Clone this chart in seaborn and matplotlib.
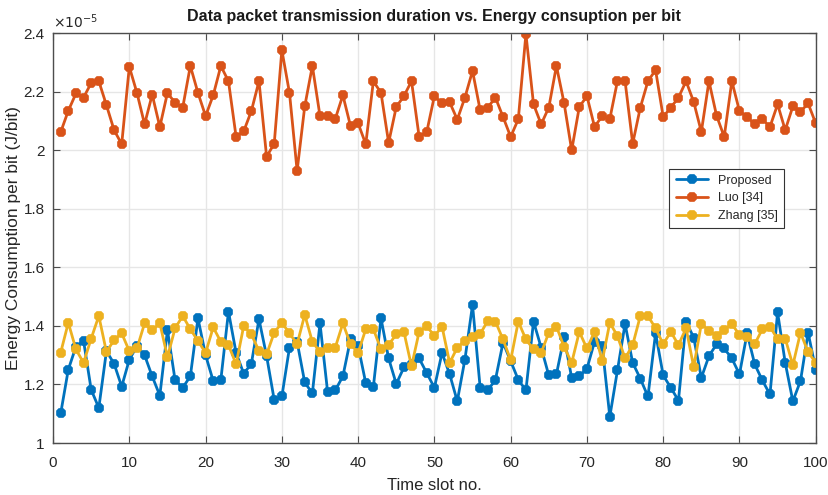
import numpy as np
import pandas as pd
import matplotlib
matplotlib.use("Agg")
import matplotlib.pyplot as plt
import seaborn as sns

slots = list(range(1, 101))

proposed = [1.101, 1.251, 1.329, 1.349, 1.182, 1.120, 1.314, 1.271, 1.193, 1.285,
            1.331, 1.300, 1.228, 1.162, 1.386, 1.215, 1.189, 1.228, 1.426, 1.300,
            1.212, 1.216, 1.449, 1.308, 1.237, 1.271, 1.423, 1.297, 1.147, 1.159,
            1.326, 1.346, 1.207, 1.170, 1.409, 1.174, 1.180, 1.228, 1.354, 1.331,
            1.205, 1.193, 1.426, 1.289, 1.202, 1.258, 1.269, 1.289, 1.239, 1.189,
            1.308, 1.235, 1.143, 1.285, 1.472, 1.189, 1.180, 1.216, 1.343, 1.280,
            1.216, 1.180, 1.415, 1.326, 1.231, 1.235, 1.361, 1.223, 1.228, 1.254,
            1.346, 1.331, 1.090, 1.248, 1.407, 1.274, 1.220, 1.159, 1.375, 1.231,
            1.189, 1.145, 1.415, 1.360, 1.223, 1.297, 1.338, 1.323, 1.289, 1.235,
            1.375, 1.269, 1.214, 1.166, 1.446, 1.274, 1.143, 1.212, 1.377, 1.251]

luo = [2.062, 2.135, 2.194, 2.180, 2.230, 2.236, 2.154, 2.069, 2.021, 2.285,
       2.196, 2.089, 2.190, 2.080, 2.196, 2.162, 2.146, 2.288, 2.196, 2.117,
       2.188, 2.288, 2.236, 2.046, 2.065, 2.134, 2.236, 1.978, 2.023, 2.342,
       2.196, 1.930, 2.150, 2.288, 2.117, 2.117, 2.107, 2.188, 2.083, 2.092,
       2.021, 2.236, 2.196, 2.026, 2.148, 2.185, 2.236, 2.046, 2.063, 2.185,
       2.160, 2.164, 2.105, 2.180, 2.271, 2.137, 2.146, 2.180, 2.114, 2.046,
       2.106, 2.397, 2.157, 2.089, 2.146, 2.288, 2.162, 2.000, 2.148, 2.185,
       2.080, 2.117, 2.107, 2.236, 2.236, 2.023, 2.146, 2.236, 2.274, 2.114,
       2.146, 2.180, 2.236, 2.165, 2.063, 2.236, 2.118, 2.046, 2.236, 2.134,
       2.114, 2.089, 2.106, 2.080, 2.157, 2.069, 2.150, 2.132, 2.160, 2.092]

zhang = [1.309, 1.411, 1.320, 1.274, 1.357, 1.434, 1.311, 1.352, 1.375, 1.314,
         1.323, 1.409, 1.386, 1.409, 1.294, 1.392, 1.434, 1.389, 1.349, 1.308,
         1.395, 1.346, 1.335, 1.269, 1.400, 1.371, 1.315, 1.303, 1.377, 1.411,
         1.375, 1.338, 1.438, 1.346, 1.311, 1.323, 1.326, 1.409, 1.338, 1.308,
         1.389, 1.389, 1.320, 1.335, 1.372, 1.380, 1.262, 1.380, 1.400, 1.365,
         1.398, 1.274, 1.326, 1.349, 1.361, 1.372, 1.418, 1.415, 1.354, 1.283,
         1.415, 1.354, 1.320, 1.308, 1.377, 1.398, 1.329, 1.274, 1.380, 1.323,
         1.380, 1.280, 1.411, 1.366, 1.289, 1.335, 1.434, 1.434, 1.392, 1.338,
         1.380, 1.335, 1.392, 1.260, 1.407, 1.384, 1.366, 1.386, 1.407, 1.369,
         1.363, 1.338, 1.389, 1.398, 1.354, 1.357, 1.266, 1.377, 1.311, 1.274]

series_names = ["Proposed", "Luo [34]", "Zhang [35]"]
colors = ["#0072BD", "#D95319", "#EDB120"]

df = pd.concat([
    pd.DataFrame({"slot": slots, "energy": vals, "method": name})
    for name, vals in zip(series_names, [proposed, luo, zhang])
])

sns.set_theme(style="whitegrid")
plt.rcParams["font.family"] = ["Liberation Sans", "DejaVu Sans"]

fig = plt.figure(figsize=(8.29, 4.95), dpi=100)
ax = fig.add_axes([0.064, 0.105, 0.920, 0.828])

for name, col in zip(series_names, colors):
    sub = df[df["method"] == name]
    sns.lineplot(data=sub, x="slot", y="energy", ax=ax, color=col, label=name,
                 linewidth=2.0, marker="8", markersize=6, markeredgewidth=1.2,
                 markeredgecolor=col, markerfacecolor=col)

ax.set_xlim(0, 100)
ax.set_ylim(1, 2.4)
ax.set_xticks(np.arange(0, 101, 10))
ax.set_yticks(np.arange(1.0, 2.41, 0.2))
ax.yaxis.set_major_formatter(matplotlib.ticker.FormatStrFormatter("%g"))
ax.grid(True, color="#e6e6e6", linewidth=1.0)
for s in ax.spines.values():
    s.set_visible(True)
    s.set_color("#4d4d4d")
    s.set_linewidth(1.0)
ax.tick_params(axis="both", direction="in", length=5, width=0.8, color="#4d4d4d",
               labelsize=11, labelcolor="#262626", top=True, right=True,
               bottom=True, left=True)
ax.tick_params(axis="x", pad=9)
ax.tick_params(axis="y", pad=6)

ax.set_xlabel("Time slot no.", fontsize=12, color="#262626", labelpad=6)
ax.set_ylabel("Energy Consumption per bit (J/bit)", fontsize=12.5, color="#262626", labelpad=2)
ax.set_title("Data packet transmission duration vs. Energy consuption per bit",
             fontsize=11.5, fontweight="bold", color="#1a1a1a", pad=9)
ax.text(0.0, 1.005, r"$\times10^{-5}$", transform=ax.transAxes, fontsize=10,
        color="#262626", ha="left", va="bottom")

leg = ax.legend(loc="upper left", bbox_to_anchor=(0.80, 0.685), fontsize=9,
                frameon=True, fancybox=False, edgecolor="#333333", framealpha=1,
                borderpad=0.5, handlelength=2.6, labelspacing=0.45)
leg.get_frame().set_linewidth(0.8)

fig.savefig("out.png", dpi=100)
